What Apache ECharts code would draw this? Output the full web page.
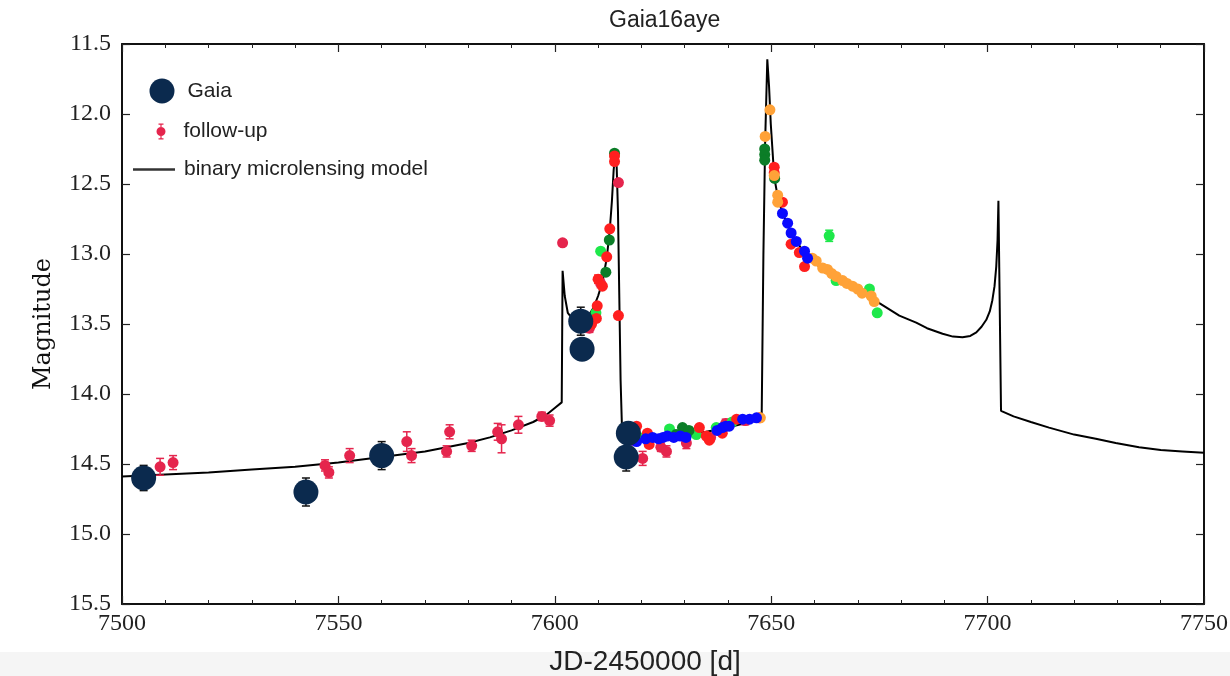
<!DOCTYPE html>
<html>
<head>
<meta charset="utf-8">
<title>Gaia16aye</title>
<script src="https://cdn.jsdelivr.net/npm/echarts@6/dist/echarts.min.js"></script>
<style>
  html, body { margin: 0; padding: 0; background: #fff; }
  #chart { width: 1230px; height: 676px; }
</style>
</head>
<body>
<div id="chart"></div>
<script>
// axis ranges / ticks
const xMin = 7500, xMax = 7750, xStep = 50
const yMin = 11.5, yMax = 15.5, yStep = 0.5

// binary microlensing model (JD-2450000, mag)
const modelJD = [7500, 7510, 7520, 7530, 7540, 7550, 7560, 7570, 7575, 7580, 7585, 7590, 7595, 7598, 7600, 7601.6,
  7601.8, 7602.3, 7603, 7604, 7606, 7608, 7609, 7610, 7611, 7612, 7612.7, 7613.2, 7613.6, 7613.9, 7614.3, 7614.6, 7614.9, 7615.2, 7615.5,
  7616, 7620, 7625, 7630, 7635, 7640, 7645, 7647.8, 7648.2, 7648.6, 7649.1, 7649.5, 7649.9, 7650.7, 7651.5, 7652.6,
  7655, 7658, 7662.7, 7665, 7668.7, 7673.4, 7676, 7679.6, 7683.5, 7686, 7689.6, 7692, 7694.2, 7696, 7697.4, 7698.6,
  7699.7, 7700.5, 7701.1, 7701.6, 7702, 7702.3, 7702.5,
  7703.1, 7706, 7710, 7714.2, 7720, 7725, 7729.6, 7735, 7740, 7745, 7750]
const modelMag = [14.59, 14.575, 14.56, 14.54, 14.52, 14.49, 14.45, 14.41, 14.38, 14.35, 14.31, 14.26, 14.2, 14.15, 14.1, 14.06,
  13.12, 13.3, 13.42, 13.46, 13.47, 13.43, 13.38, 13.3, 13.2, 13.03, 12.83, 12.62, 12.4, 12.3, 12.38, 12.7, 13.3, 13.9, 14.22,
  14.29, 14.32, 14.31, 14.29, 14.27, 14.24, 14.2, 14.16, 13.0, 12.2, 11.61, 11.8, 12.07, 12.45, 12.59, 12.71,
  12.87, 13.01, 13.13, 13.18, 13.23, 13.32, 13.37, 13.44, 13.49, 13.53, 13.57, 13.59, 13.595, 13.585, 13.56, 13.52,
  13.47, 13.41, 13.33, 13.23, 13.09, 12.9, 12.62,
  14.12, 14.16, 14.2, 14.24, 14.29, 14.32, 14.35, 14.38, 14.4, 14.41, 14.42]

// Gaia photometry [jd, mag, err]
const gaiaPts = [[7505.0, 14.60, 0.09], [7542.5, 14.70, 0.10], [7560.0, 14.44, 0.10], [7606.0, 13.48, 0.10],
  [7606.3, 13.68, 0.06], [7617.0, 14.28, 0.06], [7616.5, 14.45, 0.10]]

// follow-up photometry, one list per telescope [jd, mag, err]
const followCrimson = [[7508.8, 14.52, 0.06], [7511.8, 14.49, 0.05], [7546.9, 14.51, 0.04], [7547.8, 14.56, 0.04],
  [7552.6, 14.44, 0.05], [7565.8, 14.34, 0.07], [7566.9, 14.44, 0.05], [7575.0, 14.41, 0.04], [7575.7, 14.27, 0.05],
  [7580.8, 14.37, 0.04], [7586.8, 14.27, 0.06], [7587.7, 14.32, 0.10], [7591.6, 14.22, 0.06], [7597.0, 14.16, 0.03],
  [7598.8, 14.19, 0.04], [7601.8, 12.92, 0.02], [7608.0, 13.53, 0.03], [7610.6, 13.21, 0.03], [7614.7, 12.49, 0.02],
  [7618.0, 14.33, 0.03], [7620.3, 14.46, 0.05], [7624.5, 14.38, 0.03], [7625.8, 14.41, 0.04], [7630.4, 14.35, 0.04],
  [7636.0, 14.31, 0.03], [7639.5, 14.21, 0.03], [7644.0, 14.19, 0.03]]
const followRed = [[7608.5, 13.50, 0], [7609.6, 13.46, 0], [7609.8, 13.37, 0], [7610.0, 13.18, 0.03], [7611.0, 13.23, 0],
  [7612.0, 13.02, 0], [7612.7, 12.82, 0], [7613.8, 12.30, 0], [7613.8, 12.34, 0], [7614.7, 13.44, 0],
  [7618.9, 14.23, 0], [7621.4, 14.28, 0], [7621.8, 14.36, 0], [7633.4, 14.24, 0], [7635.0, 14.30, 0], [7635.7, 14.33, 0],
  [7638.7, 14.28, 0], [7642.0, 14.18, 0], [7647.3, 14.17, 0], [7650.7, 12.38, 0], [7650.7, 12.42, 0],
  [7652.6, 12.63, 0], [7654.6, 12.93, 0], [7656.5, 12.99, 0], [7657.7, 13.09, 0]]
const followLime = [[7609.5, 13.42, 0], [7610.6, 12.98, 0], [7619.5, 14.31, 0], [7626.5, 14.25, 0], [7632.7, 14.29, 0],
  [7637.3, 14.24, 0], [7641.0, 14.20, 0], [7663.4, 12.87, 0.04], [7665.0, 13.19, 0], [7672.7, 13.25, 0], [7674.5, 13.42, 0]]
const followDarkGreen = [[7611.8, 13.13, 0], [7612.6, 12.90, 0], [7613.8, 12.28, 0], [7628.0, 14.29, 0], [7629.5, 14.24, 0],
  [7630.4, 14.29, 0], [7631.0, 14.26, 0], [7648.5, 12.25, 0], [7648.5, 12.29, 0], [7648.5, 12.33, 0], [7650.8, 12.46, 0]]
const followBlue = [[7617.5, 14.33, 0], [7618.9, 14.34, 0], [7621.0, 14.32, 0], [7622.6, 14.31, 0], [7624.0, 14.32, 0],
  [7625.0, 14.31, 0], [7626.0, 14.30, 0], [7627.5, 14.31, 0], [7629.0, 14.30, 0], [7630.3, 14.31, 0], [7637.5, 14.26, 0],
  [7638.7, 14.24, 0], [7639.5, 14.23, 0], [7640.3, 14.23, 0], [7643.4, 14.18, 0], [7645.0, 14.18, 0], [7646.6, 14.17, 0],
  [7652.6, 12.71, 0], [7653.8, 12.78, 0], [7654.6, 12.85, 0], [7655.8, 12.91, 0], [7657.7, 12.98, 0], [7658.4, 13.03, 0]]
const followOrange = [[7647.5, 14.17, 0], [7648.6, 12.16, 0], [7649.7, 11.97, 0], [7650.7, 12.44, 0], [7651.5, 12.58, 0],
  [7651.5, 12.63, 0], [7659.5, 13.03, 0], [7660.4, 13.05, 0], [7661.9, 13.10, 0], [7663.0, 13.11, 0], [7664.0, 13.14, 0],
  [7665.0, 13.16, 0], [7666.5, 13.19, 0], [7667.5, 13.21, 0], [7668.8, 13.23, 0], [7670.0, 13.25, 0], [7671.0, 13.28, 0],
  [7673.1, 13.30, 0], [7673.8, 13.34, 0]]

const serif = '"Liberation Serif", "DejaVu Serif", serif'
const sans = '"Liberation Sans", Arial, sans-serif'

// error bars through the axes' own scales
function errorBars(name, data, color, cap, z) {
  return {
    name: name,
    type: 'custom',
    z: z,
    silent: true,
    data: data.filter(d => d[2] > 0),
    encode: { x: 0, y: 1 },
    renderItem: function (params, api) {
      const x = api.value(0), y = api.value(1), e = api.value(2)
      const a = api.coord([x, y - e]), b = api.coord([x, y + e])
      const st = { stroke: color, lineWidth: 1.5 }
      return {
        type: 'group',
        children: [
          { type: 'line', shape: { x1: a[0], y1: a[1], x2: b[0], y2: b[1] }, style: st },
          { type: 'line', shape: { x1: a[0] - cap, y1: a[1], x2: a[0] + cap, y2: a[1] }, style: st },
          { type: 'line', shape: { x1: b[0] - cap, y1: b[1], x2: b[0] + cap, y2: b[1] }, style: st }
        ]
      }
    }
  }
}

function dots(name, data, color, size, z) {
  return {
    name: name,
    type: 'scatter',
    z: z,
    symbolSize: size,
    data: data.map(d => [d[0], d[1]]),
    itemStyle: { color: color, opacity: 1 }
  }
}

const frame = { show: true, onZero: false, lineStyle: { color: '#111', width: 2 } }
const tick = { show: true, inside: true, length: 8, lineStyle: { color: '#222', width: 1.2 } }

const followIcon = 'path://M0,8A4.5,4.5,0,1,1,9,8A4.5,4.5,0,1,1,0,8ZM2,0H7V1.2H2ZM2,14.8H7V16H2ZM3.9,0H5.1V16H3.9Z'
const lineIcon = 'path://M0,0H42V2.4H0Z'

const legendText = { fontFamily: sans, fontSize: 21, color: '#222' }

const option = {
  animation: false,
  backgroundColor: '#fff',
  title: {
    text: 'Gaia16aye',
    left: 604,
    top: 4,
    textStyle: { fontFamily: sans, fontSize: 23, fontWeight: 'normal', color: '#222' }
  },
  graphic: [{
    type: 'rect', z: -10, silent: true,
    shape: { x: 0, y: 652, width: 1230, height: 24 },
    style: { fill: '#f5f5f5' }
  }],
  legend: [
    {
      data: [{ name: 'Gaia', icon: 'circle' }],
      padding: 0, left: 149.5, top: 78.5, itemWidth: 25, itemHeight: 25,
      textStyle: Object.assign({ padding: [0, 0, 0, 8] }, legendText)
    },
    {
      data: [{ name: 'follow-up', icon: followIcon }],
      padding: 0, left: 156.5, top: 121, itemWidth: 9, itemHeight: 16,
      textStyle: Object.assign({ padding: [0, 0, 0, 13] }, legendText)
    },
    {
      data: [{ name: 'binary microlensing model', icon: lineIcon }],
      padding: 0, left: 133, top: 159, itemWidth: 42, itemHeight: 2.4,
      textStyle: Object.assign({ padding: [0, 0, 0, 4] }, legendText)
    }
  ],
  grid: { left: 122, right: 26, top: 44, bottom: 72, outerBoundsMode: 'none', containLabel: false },
  xAxis: [
    {
      type: 'value', position: 'bottom', min: xMin, max: xMax, interval: xStep,
      name: 'JD-2450000 [d]', nameLocation: 'middle', nameGap: 44,
      nameTextStyle: { fontFamily: '"Liberation Sans Narrow", ' + sans, fontSize: 28, color: '#222', padding: [0, 36, 0, 0] },
      axisLine: frame, axisTick: tick,
      minorTick: { show: true, splitNumber: 5, length: 4, lineStyle: { color: '#222', width: 1 } },
      splitLine: { show: false }, minorSplitLine: { show: false },
      axisLabel: { margin: 8, showMinLabel: true, showMaxLabel: true, fontFamily: serif, fontSize: 24, color: '#222',
        formatter: v => String(v) }
    },
    {
      type: 'value', position: 'top', min: xMin, max: xMax, interval: xStep,
      axisLine: frame, axisTick: tick,
      minorTick: { show: true, splitNumber: 5, length: 4, lineStyle: { color: '#222', width: 1 } },
      splitLine: { show: false }, axisLabel: { show: false }
    }
  ],
  yAxis: [
    {
      type: 'value', position: 'left', inverse: true, min: yMin, max: yMax, interval: yStep,
      name: 'Magnitude', nameLocation: 'middle', nameGap: 66,
      nameTextStyle: { fontFamily: '"DejaVu Serif", serif', fontSize: 24, color: '#111' },
      axisLine: frame, axisTick: tick, splitLine: { show: false },
      axisLabel: { margin: 11, showMinLabel: true, showMaxLabel: true, fontFamily: serif, fontSize: 24, color: '#222',
        formatter: v => v.toFixed(1) }
    },
    {
      type: 'value', position: 'right', inverse: true, min: yMin, max: yMax, interval: yStep,
      axisLine: frame, axisTick: tick, splitLine: { show: false }, axisLabel: { show: false }
    }
  ],
  series: [
    {
      name: 'binary microlensing model',
      type: 'line',
      z: 1,
      symbol: 'none',
      data: modelJD.map((x, i) => [x, modelMag[i]]),
      lineStyle: { color: '#000', width: 2 },
      itemStyle: { color: '#333' }
    },
    errorBars('follow-up-err', followCrimson, '#e5254d', 4, 2),
    errorBars('lime-err', followLime, '#1ee84a', 4, 2),
    errorBars('red-err', followRed, '#ff1f1f', 4, 2),
    dots('follow-up', followCrimson, '#e5254d', 11, 3),
    dots('lime', followLime, '#1ee84a', 11, 3),
    dots('darkgreen', followDarkGreen, '#0b7d27', 11, 3),
    dots('red', followRed, '#ff1f1f', 11, 3),
    dots('orange', followOrange, '#ffa238', 11, 3),
    dots('blue', followBlue, '#0a0aff', 11, 4),
    errorBars('gaia-err', gaiaPts, '#111', 4, 5),
    dots('Gaia', gaiaPts, '#0b2a4e', 25, 6)
  ]
}

const chart = echarts.init(document.getElementById('chart'))
chart.setOption(option)
</script>
</body>
</html>
